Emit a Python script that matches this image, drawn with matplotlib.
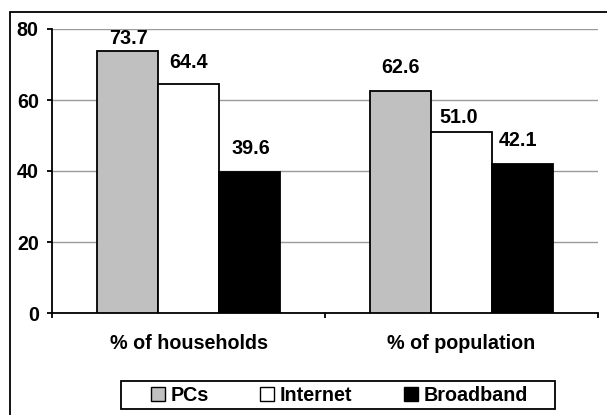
import matplotlib
matplotlib.use("Agg")
import matplotlib.pyplot as plt
from matplotlib.patches import Rectangle, Patch
import numpy as np

# Data
categories = ["% of households", "% of population"]
series_names = ["PCs", "Internet", "Broadband"]
pcs = [73.7, 62.6]
internet = [64.4, 51.0]
broadband = [39.6, 42.1]
y_ticks = [0, 20, 40, 60, 80]

# Styling
colors = ["#C0C0C0", "#FFFFFF", "#000000"]
font = ["Liberation Sans", "DejaVu Sans"]
fs = 14.2
# label offsets (points) above each bar top, per series then category
label_dy = [[9.0, 16.5], [15.5, 10.5], [17.0, 16.5]]
label_dx = [[0.7, 0.0], [0.0, -1.8], [1.0, -3.2]]

W, H = 607, 415
fig = plt.figure(figsize=(W / 100, H / 100), dpi=100)
fig.patch.set_facecolor("white")

ax = fig.add_axes([52 / W, (H - 313) / H, (598 - 52) / W, (313 - 29) / H])

x = np.arange(len(categories))
bw = 61 / 273
series = [pcs, internet, broadband]
for i, (vals, c, name) in enumerate(zip(series, colors, series_names)):
    xs = x + (i - 1) * bw
    bars = ax.bar(xs, vals, width=bw, color=c, edgecolor="black", linewidth=1.3,
                  label=name, zorder=3)
    for j, (b, v) in enumerate(zip(bars, vals)):
        ax.annotate(f"{v:.1f}", (b.get_x() + b.get_width() / 2, v),
                    xytext=(label_dx[i][j], label_dy[i][j]), textcoords="offset points",
                    ha="center", va="center", fontsize=fs, fontweight="bold",
                    family=font, zorder=4)

ax.set_xlim(-0.5, len(categories) - 0.5)
ax.set_ylim(0, 80)
ax.set_yticks(y_ticks)
ax.set_yticklabels([str(t) for t in y_ticks], fontsize=fs, fontweight="bold", family=font)
ax.yaxis.grid(True, color="#9a9a9a", linewidth=1.0, zorder=0)
ax.set_axisbelow(True)

ax.set_xticks(x)
ax.set_xticklabels(categories, fontsize=fs, fontweight="bold", family=font)
ax.tick_params(axis="x", which="major", length=0, pad=15)
ax.set_xticks(np.arange(-0.5, len(categories)), minor=True)
ax.tick_params(axis="x", which="minor", length=3.6, width=1.3, direction="out")
ax.tick_params(axis="y", length=3.6, width=1.3, direction="out", pad=6)

for s in ["top", "right"]:
    ax.spines[s].set_visible(False)
for s in ["left", "bottom"]:
    ax.spines[s].set_linewidth(1.3)

handles = [Patch(facecolor=c, edgecolor="black", linewidth=1.0) for c in colors]
leg = fig.legend(handles, series_names, loc="center",
                 bbox_to_anchor=(339.5 / W, (H - 395) / H), ncol=3,
                 frameon=False,
                 prop={"family": font, "weight": "bold", "size": fs},
                 handlelength=0.7, handleheight=0.7, handletextpad=0.3,
                 columnspacing=2.6, borderpad=0.0, borderaxespad=0)

# legend frame
fig.patches.append(Rectangle((121 / W, (H - 409) / H), (555 - 121) / W, 28 / H,
                             transform=fig.transFigure, fill=False,
                             edgecolor="black", linewidth=1.3))

# chart-area border (top and left edges visible)
fig.patches.append(Rectangle((10 / W, -0.2), 1.2, (H - 12) / H + 0.2,
                             transform=fig.transFigure, fill=False,
                             edgecolor="black", linewidth=1.3))

fig.savefig("out.png", dpi=100, facecolor="white")
